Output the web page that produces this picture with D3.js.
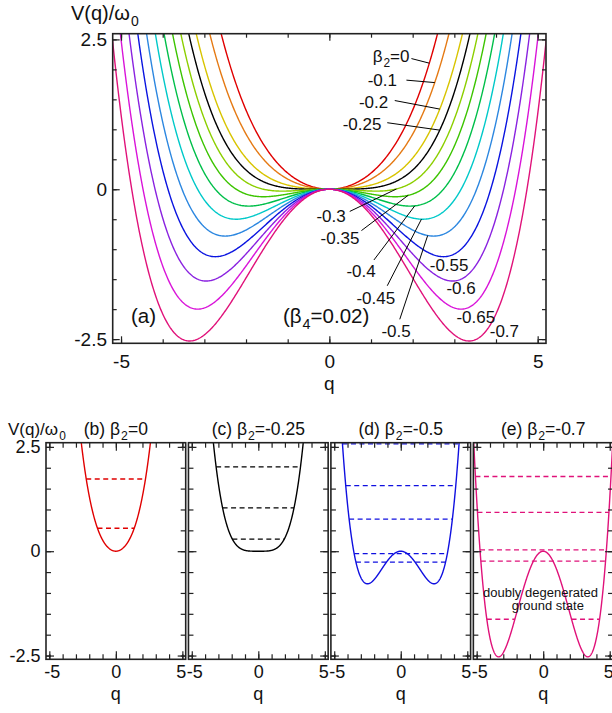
<!DOCTYPE html>
<html>
<head>
<meta charset="utf-8">
<title>Double-well potentials</title>
<script src="https://d3js.org/d3.v7.min.js"></script>
<style>
  body { margin: 0; background: #fff; }
  svg { font-family: "Liberation Sans", Arial, Helvetica, sans-serif; }
</style>
</head>
<body>
<div id="chart"></div>
<script>

// ---- data ----
var beta4 = 0.02;
var beta2List = [0, -0.1, -0.2, -0.25, -0.3, -0.35, -0.4, -0.45, -0.5, -0.55, -0.6, -0.65, -0.7];
var curveLabels = ["β_2=0", "-0.1", "-0.2", "-0.25", "-0.3", "-0.35", "-0.4", "-0.45", "-0.5", "-0.55", "-0.6", "-0.65", "-0.7"];
var curveColors = ["#e00000", "#e57a14", "#d8c400", "#000000", "#8ccf00", "#3cc400", "#00bf4a",
                   "#00c9c9", "#2c87e0", "#0a14e0", "#8a22e0", "#d914d9", "#e0127a"];

var panelBeta2 = [0, -0.25, -0.5, -0.7];
var panelTags = ["(b)", "(c)", "(d)", "(e)"];
var panelColors = ["#e00000", "#000000", "#1010e0", "#e0127a"];
// dashed energy levels (units of omega_0)
var panelLevels = [
  [0.55, 1.73],
  [0.29, 1.04, 2.02],
  [-0.26, -0.06, 0.77, 1.57, 2.57],
  [-0.24, 0.03, 0.93, 1.79]
];
// lowest level of (e) sits in both wells separately
var splitLevels = [[], [], [], [-1.63]];

var xMajor = [-5, 0, 5];
var xMinor = [-5, -4, -3, -2, -1, 0, 1, 2, 3, 4, 5];
var yMajor = [-2.5, 0, 2.5];
var yMinor = [-2.5, -2, -1.5, -1, -0.5, 0, 0.5, 1, 1.5, 2, 2.5];

// label anchors in data units: text (tq,tV), leader start (lq,lV), leader end on curve at q = eq
var labelAnchors = [
  {tq: 1.04, tV: 2.22, lq: 1.97, lV: 2.18, eq: 2.40},
  {tq: 0.92, tV: 1.83, lq: 1.85, lV: 1.82, eq: 2.53},
  {tq: 0.71, tV: 1.46, lq: 1.57, lV: 1.48, eq: 2.65},
  {tq: 0.32, tV: 1.09, lq: 1.39, lV: 1.11, eq: 2.65},
  {tq: -0.31, tV: -0.44, lq: 0.49, lV: -0.37, eq: 1.61},
  {tq: -0.21, tV: -0.82, lq: 0.77, lV: -0.69, eq: 1.89},
  {tq: 0.41, tV: -1.37, lq: 1.07, lV: -1.18, eq: 2.05},
  {tq: 0.65, tV: -1.82, lq: 1.39, lV: -1.61, eq: 2.21},
  {tq: 1.25, tV: -2.37, lq: 1.69, lV: -2.17, eq: 2.36},
  {tq: 2.41, tV: -1.26},
  {tq: 2.81, tV: -1.65},
  {tq: 3.05, tV: -2.13},
  {tq: 3.85, tV: -2.37}
];

function V(q, b2) {
  return (0.25 + b2) * q * q + beta4 * Math.pow(q, 4);
}
var qGrid = d3.range(-5.4, 5.4001, 0.02);

// turning points of level E: returns [inner, outer] |q| (inner = null if single well region)
function turning(E, b2) {
  var A = 0.25 + b2;
  var disc = Math.sqrt(A * A + 4 * beta4 * E);
  var uo = (-A + disc) / (2 * beta4);
  var ui = (-A - disc) / (2 * beta4);
  return [ui > 0 ? Math.sqrt(ui) : null, Math.sqrt(uo)];
}

// text with "_x" meaning subscript x
function richText(sel, str, fs) {
  var parts = [];
  var i = 0, buf = "";
  while (i < str.length) {
    if (str[i] === "_") {
      if (buf) parts.push({t: buf, sub: false});
      buf = "";
      parts.push({t: str[i + 1], sub: true});
      i += 2;
    } else { buf += str[i]; i++; }
  }
  if (buf) parts.push({t: buf, sub: false});
  var off = fs * 0.3, prev = false;
  parts.forEach(function (p) {
    var dy = p.sub && !prev ? off : (!p.sub && prev ? -off : 0);
    sel.append("tspan").attr("dy", dy)
      .attr("dx", p.sub ? 1 : 0)
      .attr("font-size", p.sub ? fs * 0.7 : fs)
      .text(p.t);
    prev = p.sub;
  });
  return sel;
}

var svg = d3.select("#chart").append("svg").attr("width", 612).attr("height", 713);
var defs = svg.append("defs");

function frame(g, x, y, o) {
  var w = x.range()[1], h = y.range()[0];
  var fmt = function (d) { return String(d); };
  function style(sel) {
    sel.attr("font-family", null).attr("font-size", o.font);
    sel.select(".domain").remove();
    sel.selectAll("line").attr("stroke", "#222").attr("stroke-width", 1.2);
    sel.selectAll("text").attr("fill", "#111");
  }
  g.append("g").attr("transform", "translate(0," + h + ")")
    .call(d3.axisBottom(x).tickValues(xMinor).tickSize(-o.minor).tickFormat("")).call(style);
  g.append("g").attr("transform", "translate(0," + h + ")")
    .call(d3.axisBottom(x).tickValues(xMajor).tickSize(-o.major).tickPadding(o.xPad).tickFormat(fmt)).call(style)
    .selectAll("text")
      .attr("dx", function (d) { return d === -5 ? o.edgeShift : (d === 5 ? -0.6 * o.edgeShift : 0); });
  g.append("g")
    .call(d3.axisTop(x).tickValues(xMinor).tickSize(-o.minor).tickFormat("")).call(style);
  g.append("g")
    .call(d3.axisTop(x).tickValues(xMajor).tickSize(-o.major).tickFormat("")).call(style);
  g.append("g")
    .call(d3.axisLeft(y).tickValues(yMinor).tickSize(-o.minor).tickFormat("")).call(style);
  g.append("g")
    .call(d3.axisLeft(y).tickValues(yMajor).tickSize(-o.major).tickPadding(o.yPad)
      .tickFormat(o.yLabels ? fmt : "")).call(style);
  g.append("g").attr("transform", "translate(" + w + ",0)")
    .call(d3.axisRight(y).tickValues(yMinor).tickSize(-o.minor).tickFormat("")).call(style);
  g.append("g").attr("transform", "translate(" + w + ",0)")
    .call(d3.axisRight(y).tickValues(yMajor).tickSize(-o.major).tickFormat("")).call(style);
  g.append("rect").attr("width", w).attr("height", h)
    .attr("fill", "none").attr("stroke", "#222").attr("stroke-width", 1.6);
}

// ---- panel (a) ----
var topBox = {left: 112.7, top: 33.7, w: 433.3, h: 309.6};
var xTop = d3.scaleLinear().domain([-5.2, 5.2]).range([0, topBox.w]);
var yTop = d3.scaleLinear().domain([-2.57, 2.595]).range([topBox.h, 0]);
var gTop = svg.append("g").attr("transform", "translate(" + topBox.left + "," + topBox.top + ")");

defs.append("clipPath").attr("id", "clip-top")
  .append("rect").attr("width", topBox.w).attr("height", topBox.h);

var lineTop = d3.line().x(function (d) { return xTop(d[0]); }).y(function (d) { return yTop(d[1]); });

gTop.append("g").attr("clip-path", "url(#clip-top)")
  .selectAll("path").data(beta2List).join("path")
    .attr("fill", "none")
    .attr("stroke", function (d, i) { return curveColors[i]; })
    .attr("stroke-width", 1.4)
    .attr("d", function (b) { return lineTop(qGrid.map(function (q) { return [q, V(q, b)]; })); });

labelAnchors.forEach(function (a, i) {
  if (a.eq !== undefined) {
    gTop.append("line")
      .attr("x1", xTop(a.lq)).attr("y1", yTop(a.lV))
      .attr("x2", xTop(a.eq)).attr("y2", yTop(V(a.eq, beta2List[i])))
      .attr("stroke", "#000").attr("stroke-width", 1);
  }
  var t = gTop.append("text").attr("x", xTop(a.tq)).attr("y", yTop(a.tV) + 6).attr("fill", "#111");
  richText(t, curveLabels[i], 17);
});

frame(gTop, xTop, yTop, {font: 19, major: 7, minor: 4, xPad: 11.5, yPad: 5.7, yLabels: true, edgeShift: 0});

gTop.append("text").attr("x", 131 - topBox.left).attr("y", 323 - topBox.top)
  .attr("font-size", 20.5).attr("fill", "#111").text("(a)");
richText(gTop.append("text").attr("x", 283 - topBox.left).attr("y", 323 - topBox.top).attr("fill", "#111"),
  "(β_4=0.02)", 20.5);

richText(svg.append("text").attr("x", 71).attr("y", 20).attr("fill", "#111"), "V(q)/ω_0", 20);
svg.append("text").attr("x", topBox.left + xTop(0)).attr("y", 389.5)
  .attr("text-anchor", "middle").attr("font-size", 19).attr("fill", "#111").text("q");

// ---- panels (b)-(e) ----
var panelW = 139.7, panelH = 216.6, panelTop = 442.7, panelLeft0 = 46, panelStep = 142.45;
var xP = d3.scaleLinear().domain([-5.25, 5.25]).range([0, panelW]);
var yP = d3.scaleLinear().domain([-2.59, 2.6]).range([panelH, 0]);
var lineP = d3.line().x(function (d) { return xP(d[0]); }).y(function (d) { return yP(d[1]); });

panelBeta2.forEach(function (b2, k) {
  var g = svg.append("g").attr("transform", "translate(" + (panelLeft0 + k * panelStep) + "," + panelTop + ")");
  defs.append("clipPath").attr("id", "clip-" + k)
    .append("rect").attr("width", panelW).attr("height", panelH);
  var inner = g.append("g").attr("clip-path", "url(#clip-" + k + ")");

  var segs = panelLevels[k].map(function (E) {
    var tp = turning(E, b2);
    return {E: E, q0: -tp[1], q1: tp[1]};
  });
  splitLevels[k].forEach(function (E) {
    var tp = turning(E, b2);
    segs.push({E: E, q0: -tp[1], q1: -tp[0]});
    segs.push({E: E, q0: tp[0], q1: tp[1]});
  });
  inner.selectAll("line.level").data(segs).join("line")
    .attr("class", "level")
    .attr("x1", function (d) { return xP(d.q0); }).attr("x2", function (d) { return xP(d.q1); })
    .attr("y1", function (d) { return yP(d.E); }).attr("y2", function (d) { return yP(d.E); })
    .attr("stroke", panelColors[k]).attr("stroke-width", 1.3)
    .attr("stroke-dasharray", "5,3.5");

  inner.append("path")
    .attr("fill", "none").attr("stroke", panelColors[k]).attr("stroke-width", 1.4)
    .attr("d", lineP(qGrid.map(function (q) { return [q, V(q, b2)]; })));

  frame(g, xP, yP, {font: 18, major: 8, minor: 5, xPad: 5.9, yPad: 5.5, yLabels: k === 0, edgeShift: 2.5});

  richText(g.append("text").attr("x", panelW / 2).attr("y", 435 - panelTop)
    .attr("text-anchor", "middle").attr("fill", "#111"),
    panelTags[k] + " β_2=" + b2, 17.5);
  g.append("text").attr("x", xP(0)).attr("y", 700 - panelTop)
    .attr("text-anchor", "middle").attr("font-size", 18).attr("fill", "#111").text("q");

  if (splitLevels[k].length) {
    g.append("text").attr("x", xP(-0.2)).attr("y", yP(-1.1))
      .attr("text-anchor", "middle").attr("font-size", 12).attr("fill", "#111")
      .attr("textLength", 115).attr("lengthAdjust", "spacingAndGlyphs")
      .text("doubly degenerated");
    g.append("text").attr("x", xP(0.35)).attr("y", yP(-1.41))
      .attr("text-anchor", "middle").attr("font-size", 12).attr("fill", "#111")
      .attr("textLength", 72).attr("lengthAdjust", "spacingAndGlyphs")
      .text("ground state");
  }
});

richText(svg.append("text").attr("x", 8).attr("y", 435).attr("fill", "#111"), "V(q)/ω_0", 17);

</script>
</body>
</html>
